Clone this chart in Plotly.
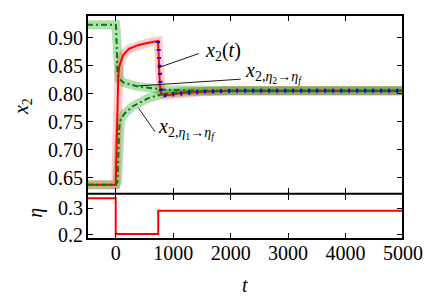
import plotly.graph_objects as go
from plotly.subplots import make_subplots

# ---- data ----
# measured trajectory x2(t)
t_x2 = [-500, 0, 5, 15, 30, 45, 60, 100, 130, 230, 400, 570, 737, 745, 755, 768, 790, 850, 950, 1130, 1500, 2000, 5000]
x2 = [0.637, 0.637, 0.66, 0.72, 0.79, 0.832, 0.848, 0.862, 0.869, 0.880, 0.887, 0.891, 0.894, 0.875, 0.845, 0.815, 0.801, 0.797, 0.798, 0.801, 0.8035, 0.805, 0.805]

# prediction after switch eta_2 -> eta_f (blue dotted)
t_pred = [737, 745, 755, 768, 790, 850, 950, 1130, 1500, 2000, 5000]
x2_pred = [0.894, 0.875, 0.845, 0.815, 0.801, 0.797, 0.798, 0.801, 0.8035, 0.805, 0.805]

# x_{2, eta2 -> etaf} (upper green)
t_g2 = [-500, 0, 8, 14, 20, 30, 60, 150, 400, 850, 1200, 2000, 5000]
x2_g2 = [0.923, 0.923, 0.915, 0.88, 0.853, 0.838, 0.826, 0.819, 0.8125, 0.807, 0.8055, 0.805, 0.805]

# x_{2, eta1 -> etaf} (lower green)
t_g1 = [-500, 0, 30, 42, 50, 60, 80, 150, 290, 570, 850, 1200, 2000, 5000]
x2_g1 = [0.637, 0.637, 0.642, 0.67, 0.71, 0.738, 0.752, 0.764, 0.777, 0.792, 0.800, 0.8035, 0.805, 0.805]

# eta(t)
t_eta = [-500, 0, 0, 740, 740, 5000]
eta = [0.337, 0.337, 0.203, 0.203, 0.29, 0.29]

x_ticks = [0, 1000, 2000, 3000, 4000, 5000]
x2_ticks = [0.65, 0.70, 0.75, 0.80, 0.85, 0.90]
eta_ticks = [0.2, 0.3]

FONT = "Liberation Serif"
GREEN = "#008000"
GREEN_BAND = "rgba(0,150,0,0.3)"
RED_BAND = "rgba(255,0,0,0.2)"

fig = make_subplots(rows=2, cols=1, shared_xaxes=True, vertical_spacing=0,
                    row_heights=[0.798, 0.202])

# bands
for tt, yy in [(t_g2, x2_g2), (t_g1, x2_g1)]:
    fig.add_trace(go.Scatter(x=tt, y=yy, mode="lines",
                             line=dict(color=GREEN_BAND, width=9), hoverinfo="skip"), row=1, col=1)
fig.add_trace(go.Scatter(x=t_x2, y=x2, mode="lines",
                         line=dict(color=RED_BAND, width=9), hoverinfo="skip"), row=1, col=1)
# red main line
fig.add_trace(go.Scatter(x=t_x2, y=x2, mode="lines",
                         line=dict(color="red", width=2)), row=1, col=1)
# green dash-dot
for tt, yy in [(t_g2, x2_g2), (t_g1, x2_g1)]:
    fig.add_trace(go.Scatter(x=tt, y=yy, mode="lines",
                             line=dict(color=GREEN, width=2, dash="6px,3px,2px,3px")), row=1, col=1)
# blue dotted prediction
fig.add_trace(go.Scatter(x=t_pred, y=x2_pred, mode="lines",
                         line=dict(color="blue", width=4, dash="2px,6px")), row=1, col=1)
# eta
fig.add_trace(go.Scatter(x=t_eta, y=eta, mode="lines",
                         line=dict(color="red", width=2)), row=2, col=1)

axis_common = dict(showline=False, mirror="ticks",
                   ticks="inside", ticklen=6, tickwidth=1, tickcolor="black",
                   showgrid=False, zeroline=False, ticklabeloverflow="allow",
                   tickfont=dict(family=FONT, size=20, color="black"))

fig.update_xaxes(range=[-500, 5000], tickvals=x_ticks, tickformat="d", **axis_common)
fig.update_xaxes(showticklabels=False, row=1, col=1)
fig.update_yaxes(range=[0.621, 0.9405], tickvals=x2_ticks, tickformat=".2f",
                 ticklabelstandoff=3, row=1, col=1, **axis_common)
fig.update_yaxes(range=[0.184, 0.354], tickvals=eta_ticks, tickformat=".1f",
                 ticklabelstandoff=3, row=2, col=1, **axis_common)

# frame: one outer rectangle and one dividing line
fig.add_shape(type="rect", xref="x domain", yref="paper", x0=0, x1=1, y0=0, y1=1,
              line=dict(color="black", width=2), layer="above")
fig.add_shape(type="line", xref="x domain", yref="y domain", x0=0, x1=1, y0=0, y1=0,
              line=dict(color="black", width=2), layer="above")

ann_font = dict(family=FONT, size=20, color="black")
annotations = [
    # curve labels with pointer lines
    dict(x=735, y=0.846, ax=1470, ay=0.8725, axref="x", ayref="y", xref="x", yref="y",
         text="", showarrow=True, arrowhead=0, arrowwidth=0.9, arrowcolor="black"),
    dict(x=1520, y=0.876, xref="x", yref="y", xanchor="left", yanchor="middle",
         text="<i>x</i><sub>2</sub>(<i>t</i>)", showarrow=False, font=ann_font),
    dict(x=398, y=0.8138, ax=2200, ay=0.826, axref="x", ayref="y", xref="x", yref="y",
         text="", showarrow=True, arrowhead=0, arrowwidth=0.9, arrowcolor="black"),
    dict(x=2210, y=0.837, xref="x", yref="y", xanchor="left", yanchor="middle",
         text="<i>x</i><sub>2,<i>η</i><sub>2</sub>→<i>η</i><sub><i>f</i></sub></sub>", showarrow=False, font=ann_font),
    dict(x=398, y=0.774, ax=701, ay=0.7293, axref="x", ayref="y", xref="x", yref="y",
         text="", showarrow=True, arrowhead=0, arrowwidth=0.9, arrowcolor="black"),
    dict(x=701, y=0.737, xref="x", yref="y", xanchor="left", yanchor="middle",
         text="<i>x</i><sub>2,<i>η</i><sub>1</sub>→<i>η</i><sub><i>f</i></sub></sub>", showarrow=False, font=ann_font),
    # axis titles
    dict(x=20, y=107, xref="paper", yref="paper", text="<i>x</i><sub>2</sub>", textangle=-90,
         showarrow=False, font=ann_font),
    dict(x=33, y=213, xref="paper", yref="paper", text="<i>η</i>", textangle=-90,
         showarrow=False, font=ann_font),
    dict(x=250, y=285, xref="paper", yref="paper", text="<i>t</i>",
         showarrow=False, font=ann_font),
]

# convert pixel-positioned axis titles into paper coordinates
L, R, T, B = 87, 22, 15, 61
W, H = 435, 300
for a in annotations[-3:]:
    px, py = a["x"], a["y"]
    a["x"] = (px - L) / (W - L - R)
    a["y"] = (H - B - py) / (H - T - B)
    a["xanchor"] = "center"
    a["yanchor"] = "middle"

fig.update_layout(width=W, height=H, margin=dict(l=L, r=R, t=T, b=B),
                  plot_bgcolor="white", paper_bgcolor="white", showlegend=False,
                  annotations=annotations,
                  font=dict(family=FONT, size=20, color="black"))

fig.write_html("out.html")
